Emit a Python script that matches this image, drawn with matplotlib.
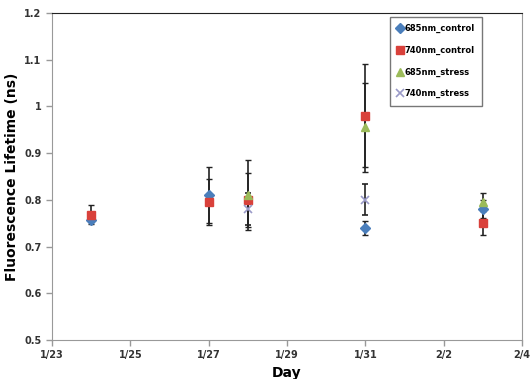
import matplotlib
matplotlib.use("Agg")
import matplotlib.pyplot as plt
import numpy as np

# days counted from 1/23
days = [1, 4, 5, 8, 11]
tick_pos = [0, 2, 4, 6, 8, 10, 12]
tick_labels = ['1/23', '1/25', '1/27', '1/29', '1/31', '2/2', '2/4']

c685 = [0.757, 0.810, np.nan, 0.740, 0.780]
c685_err = [0.005, 0.06, np.nan, 0.015, 0.02]
c740 = [0.768, 0.795, 0.800, 0.980, 0.750]
c740_err = [0.02, 0.05, 0.058, 0.11, 0.025]
s685 = [np.nan, np.nan, 0.810, 0.955, 0.795]
s685_err = [np.nan, np.nan, 0.075, 0.095, 0.02]
s740 = [np.nan, np.nan, 0.780, 0.800, np.nan]
s740_err = [np.nan, np.nan, 0.035, 0.033, np.nan]

fig = plt.figure(figsize=(5.31, 3.79), dpi=100)
ax = fig.add_axes([0.098, 0.103, 0.885, 0.863])

eb = dict(ecolor='#222222', elinewidth=1.2, capsize=2.5, capthick=1, linestyle='none')
h1 = ax.errorbar(days, c685, yerr=c685_err, marker='D', ms=5, color='#4a7ebb', **eb)
h2 = ax.errorbar(days, c740, yerr=c740_err, marker='s', ms=6, color='#d9413b', **eb)
h3 = ax.errorbar(days, s685, yerr=s685_err, marker='^', ms=6, color='#9bbb59', **eb)
h4 = ax.errorbar(days, s740, yerr=s740_err, marker='x', ms=6, mew=1.2, color='#9a9ac8', **eb)

ax.set_xlim(0, 12)
ax.set_ylim(0.5, 1.2)
ax.set_xticks(tick_pos)
ax.set_xticklabels(tick_labels)
ax.set_yticks([0.5, 0.6, 0.7, 0.8, 0.9, 1.0, 1.1, 1.2])
ax.set_yticklabels(['0.5', '0.6', '0.7', '0.8', '0.9', '1', '1.1', '1.2'])
ax.tick_params(direction='out', length=4, width=1, color='#999999', labelsize=7, labelcolor='#333333')
for lab in ax.get_xticklabels() + ax.get_yticklabels():
    lab.set_fontweight('bold')
for s in ['left', 'bottom', 'right']:
    ax.spines[s].set_color('#999999')
ax.spines['top'].set_color('#222222')

ax.set_xlabel('Day', fontsize=10, fontweight='bold')
ax.set_ylabel('Fluorescence Lifetime (ns)', fontsize=10, fontweight='bold')

names = ['685nm_control', '740nm_control', '685nm_stress', '740nm_stress']
leg = ax.legend([h1[0], h2[0], h3[0], h4[0]], names, loc='upper left',
                bbox_to_anchor=((390 - 52) / 470, 0.988), frameon=True,
                fancybox=False, edgecolor='#555555', handlelength=0.6, handletextpad=0.2,
                labelspacing=1.5, borderpad=0.9, borderaxespad=0,
                prop={'weight': 'bold', 'size': 6})
leg.get_frame().set_linewidth(1)

fig.savefig('out.png', dpi=100)
